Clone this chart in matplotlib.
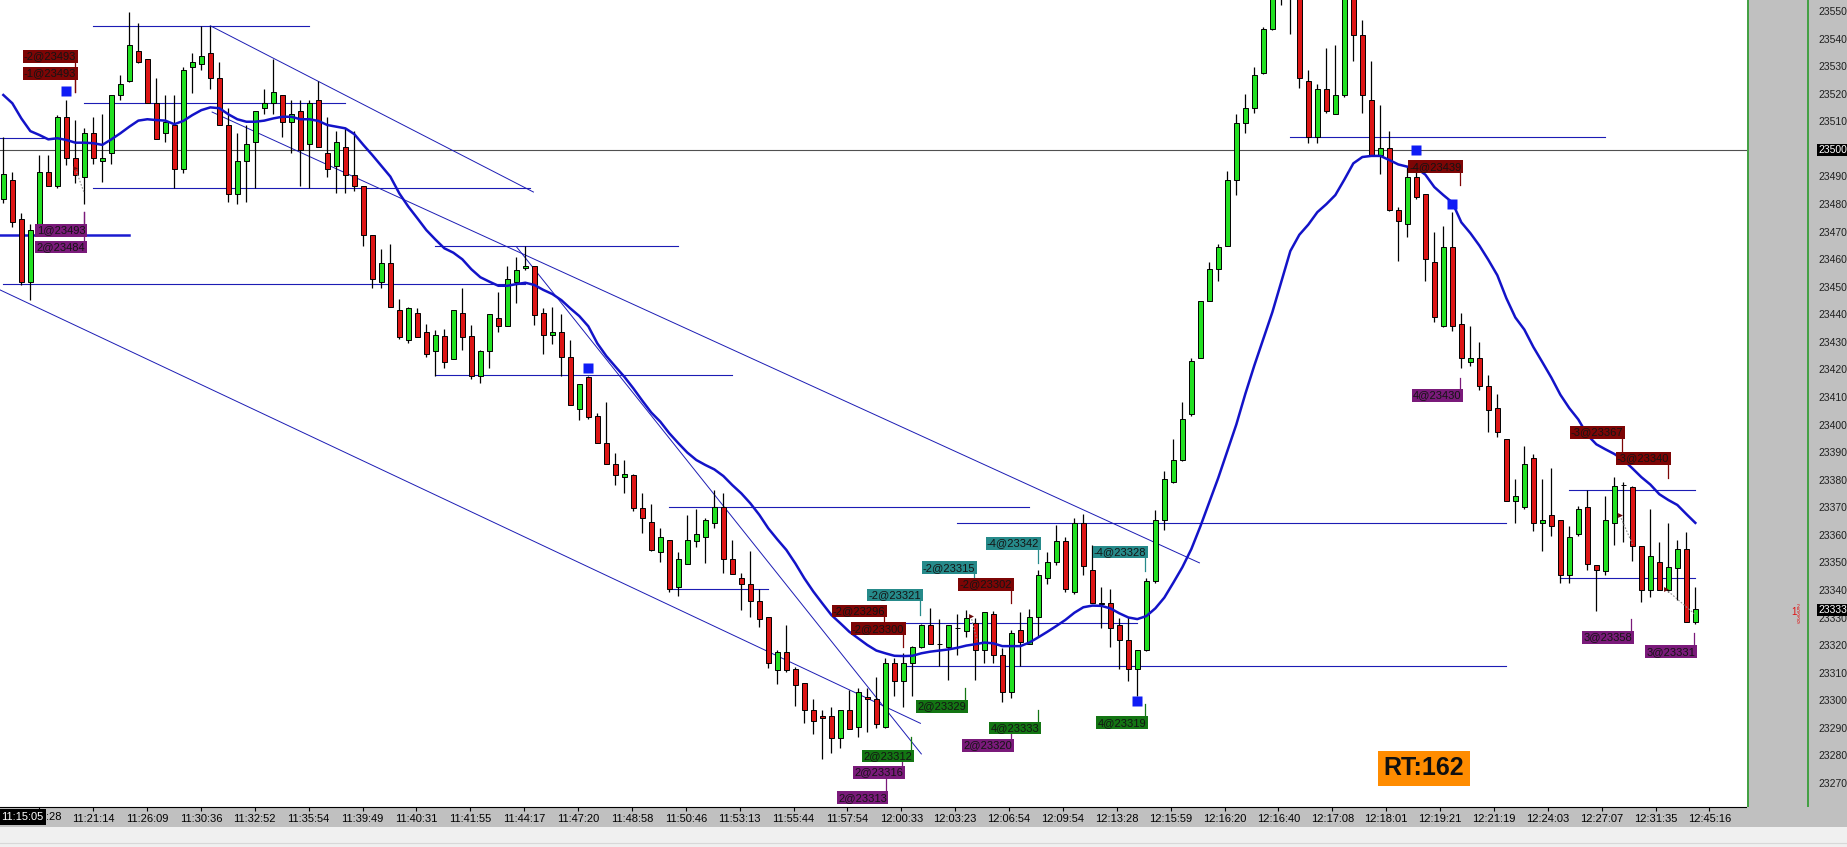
import numpy as np
import matplotlib

matplotlib.use("Agg")
import matplotlib.pyplot as plt
from matplotlib.patches import Rectangle

plt.rcParams["font.family"] = ["Liberation Sans", "DejaVu Sans"]

# ---- candle data (one bar per slot) ----
opens = [
    23482.2, 23489, 23475, 23452, 23471, 23492, 23487, 23512, 23497, 23490,
    23506, 23496, 23499, 23520, 23525, 23536, 23533, 23517, 23506, 23509,
    23493, 23530, 23531, 23535, 23526, 23509, 23484, 23496, 23503, 23515,
    23517, 23520, 23510, 23514, 23502, 23518, 23499, 23494, 23501, 23491,
    23487, 23469, 23452, 23459, 23442, 23431, 23441, 23434, 23427, 23432.5,
    23424, 23441, 23432.5, 23418, 23427, 23439, 23436, 23452, 23457, 23458,
    23441, 23433, 23434, 23425, 23406, 23417.5, 23403.5, 23393.5, 23386, 23381.5,
    23382, 23370, 23365, 23354, 23358.5, 23341.6, 23349.7, 23358.3, 23359.5, 23364.5,
    23370.3, 23351.5, 23344.6, 23342.4, 23336.5, 23330.4, 23311.3, 23318, 23311.6, 23306.5,
    23296.8, 23294.7, 23294.7, 23286.6, 23296.8, 23290.5, 23301.7, 23300.7, 23290.6, 23313.8,
    23307.5, 23313.8, 23319.6, 23327.6, 23320.8, 23319.6, 23326.5, 23325.6, 23328.3, 23318.6,
    23331.5, 23316.8, 23303.5, 23325.8, 23320.8, 23330.4, 23344.6, 23350.4, 23358.3, 23339.5,
    23364.7, 23347.6, 23335.3, 23335.6, 23327.5, 23322.4, 23311.6, 23318.5, 23343.5, 23365.6,
    23379.4, 23387.4, 23404.1, 23424.4, 23445.1, 23456.9, 23465.1, 23488.9, 23509.9, 23515.1,
    23527.7, 23544, 23562, 23570, 23558, 23525, 23504.8, 23522.1, 23512.9, 23520,
    23562, 23541.8, 23518.1, 23498.1, 23500.8, 23478.1, 23473.2, 23490, 23484, 23459.3,
    23436.2, 23464.8, 23436.9, 23423, 23424.4, 23414.3, 23406.3, 23395.2, 23372.6, 23370.3,
    23388.3, 23364.7, 23367.5, 23365.7, 23345.7, 23360.5, 23370.3, 23349.4, 23347.3, 23364.7,
    23378.6, 23377.6, 23356.4, 23340.4, 23350.4, 23340.4, 23348.5, 23355.4, 23328.6,
]
highs = [
    23504.7, 23492, 23477, 23473, 23498, 23498, 23512.5, 23518, 23511, 23508,
    23512, 23513, 23520, 23527, 23550, 23546, 23533, 23526, 23520, 23520,
    23530, 23535, 23545, 23545, 23532, 23515, 23506, 23509, 23514, 23522,
    23533, 23520, 23518, 23518, 23518, 23525, 23512, 23507, 23508, 23507,
    23487, 23469, 23464, 23466, 23446, 23443, 23442.5, 23437, 23434.5, 23435,
    23442, 23450, 23436.5, 23427.5, 23440.5, 23448.5, 23458, 23461, 23465, 23458,
    23442.5, 23443, 23440.5, 23431, 23415, 23418, 23404.5, 23408.5, 23390, 23387.5,
    23382.5, 23375.5, 23371.5, 23362.7, 23358.5, 23354, 23367.6, 23369.6, 23366.4, 23376.6,
    23375.4, 23358.5, 23346.6, 23354.6, 23340.6, 23330.4, 23318.6, 23327.7, 23312.6, 23306.5,
    23300.7, 23296.8, 23297.8, 23296.8, 23304.1, 23304.7, 23304.7, 23308.9, 23315.6, 23315.6,
    23317.4, 23320, 23328, 23333.7, 23329.7, 23327.6, 23331.7, 23333.1, 23330.1, 23332.5,
    23332.9, 23319.2, 23325.8, 23332.5, 23333.3, 23347.6, 23354.3, 23363.9, 23359.5, 23366.4,
    23367.8, 23356.6, 23341.6, 23340.7, 23330.1, 23330.5, 23318.5, 23344.7, 23369.5, 23383.5,
    23395.2, 23408.5, 23424.4, 23445.1, 23459.3, 23465.8, 23492.2, 23512.9, 23520.3, 23529.9,
    23544.7, 23566, 23575, 23578, 23560, 23528.9, 23524, 23536.9, 23538.1, 23566,
    23564, 23547, 23532.4, 23516.2, 23507, 23479.1, 23494, 23492.2, 23484, 23470.3,
    23472.2, 23477.4, 23441, 23436.2, 23430.4, 23418.4, 23411.5, 23395.2, 23380.7, 23392.5,
    23389.7, 23380.7, 23384.5, 23365.7, 23363.7, 23370.7, 23376.5, 23349.4, 23374.4, 23381.4,
    23379.5, 23378.2, 23356.4, 23369.8, 23357.8, 23364.7, 23358.5, 23361.5, 23341.5,
]
lows = [
    23480.7, 23472, 23451, 23445.5, 23470, 23487, 23486, 23494.5, 23488, 23480.5,
    23495, 23488.5, 23495, 23518, 23524.5, 23531.5, 23517, 23504, 23503, 23486,
    23491.5, 23520.5, 23529, 23522, 23509, 23481, 23480.5, 23481, 23486, 23513,
    23513, 23504.5, 23499, 23487, 23486, 23501, 23490, 23484.5, 23484.5, 23485,
    23465, 23450, 23450, 23443, 23431.5, 23430, 23432, 23425, 23418, 23421,
    23424, 23427.5, 23417, 23415.5, 23421, 23434, 23436, 23444.5, 23456.5, 23436.5,
    23426, 23429.5, 23418, 23407.5, 23402, 23402.5, 23393.5, 23386, 23378.5, 23375.7,
    23369, 23361, 23354.5, 23350.6, 23339.8, 23338, 23349.7, 23355.8, 23350, 23362.7,
    23346.6, 23346, 23333, 23330.7, 23326.8, 23311.9, 23306.3, 23310.7, 23298.3, 23292,
    23288.1, 23278.9, 23281.1, 23283, 23289.8, 23286.9, 23289, 23290.2, 23290.2, 23301.9,
    23298, 23302, 23319.2, 23320.8, 23312.8, 23307.7, 23316.8, 23323.4, 23307.7, 23314,
    23314, 23299.9, 23301.1, 23312.8, 23320.8, 23323.7, 23342.5, 23349.4, 23339.8, 23339,
    23345.9, 23335.6, 23326.7, 23319.8, 23311.6, 23307.5, 23301.9, 23318.1, 23343, 23362.3,
    23379, 23387, 23403.6, 23424.4, 23445, 23452.5, 23465, 23483.6, 23506.2, 23513.2,
    23527.4, 23543.5, 23552.5, 23542, 23522.5, 23502.5, 23502.5, 23513.2, 23512.9, 23519,
    23532.4, 23513.2, 23497.8, 23491.4, 23478, 23459.6, 23468.5, 23482.1, 23452.5, 23437.4,
    23435.6, 23434.4, 23420.9, 23421.6, 23412.9, 23397.6, 23395.7, 23372.6, 23364.7, 23369.8,
    23361.9, 23354.6, 23359.8, 23342.9, 23342.9, 23359.8, 23347.6, 23332.8, 23345.9, 23356.8,
    23357.8, 23350.8, 23336, 23337.9, 23340.4, 23339.7, 23336.9, 23328.6, 23327.9,
]
closes = [
    23491.2, 23474, 23452, 23471, 23492, 23487, 23512, 23497, 23491, 23506,
    23497, 23497, 23520, 23524, 23538, 23532, 23517, 23504, 23510, 23493,
    23529, 23532, 23534, 23526, 23509, 23484, 23496, 23502, 23514, 23517,
    23521, 23510, 23513, 23500, 23517, 23501, 23493, 23503, 23491, 23487,
    23469, 23453, 23459, 23443, 23432, 23442.5, 23432, 23426, 23433, 23423,
    23442, 23432, 23418, 23427, 23440.5, 23436, 23453, 23456.5, 23458, 23440,
    23433, 23434, 23425, 23407.5, 23415, 23403, 23393.5, 23386, 23382, 23382.5,
    23370, 23366.5, 23355, 23359.5, 23340.6, 23351.5, 23358.5, 23360.7, 23365.7, 23370.3,
    23351.5, 23346.2, 23342.4, 23336.5, 23329.7, 23313.8, 23318, 23311.3, 23305.9, 23296.8,
    23292.9, 23293.8, 23286.6, 23296.8, 23289.8, 23303.5, 23300.7, 23291.8, 23313.8, 23307.5,
    23313.8, 23319.6, 23327.6, 23320.8, 23320.8, 23327.6, 23326.5, 23330.1, 23318.6, 23332.5,
    23316.8, 23303.5, 23324.6, 23321.6, 23330.4, 23345.8, 23350.4, 23358.3, 23340.6, 23364.7,
    23349, 23335.6, 23335.8, 23326.7, 23322.4, 23311.6, 23318.5, 23343.5, 23365.6, 23380.6,
    23387.4, 23402.2, 23423.3, 23445.1, 23456.9, 23464.8, 23488.9, 23509.9, 23515.1, 23527,
    23544, 23562, 23570, 23558, 23525.9, 23504.8, 23522.1, 23514.1, 23520, 23562,
    23541.8, 23520, 23497.8, 23500.8, 23478.1, 23474.1, 23490, 23483, 23460.3, 23439.2,
    23464.8, 23436.2, 23424.4, 23424.4, 23414.3, 23405.6, 23397.6, 23372.6, 23374.4, 23386.2,
    23364.7, 23365.7, 23363.7, 23345.7, 23359.6, 23369.6, 23349.8, 23347.6, 23365.7, 23378.2,
    23378.6, 23356.4, 23340.4, 23352.6, 23340.4, 23348.7, 23355.4, 23328.6, 23333.5,
]

# moving average as drawn on the chart (read per bar)
ma_values = [
    23519.9, 23516.9, 23511.4, 23506.8, 23505.4, 23503.8, 23504.2, 23503.6, 23502.6, 23502.6,
    23502.4, 23501.8, 23503.8, 23506.0, 23508.4, 23510.6, 23511.1, 23510.8, 23510.6, 23509.3,
    23510.5, 23512.6, 23514.4, 23515.4, 23515.1, 23512.9, 23511.1, 23510.2, 23510.2, 23510.6,
    23511.4, 23512.0, 23512.0, 23511.1, 23511.1, 23510.5, 23509.0, 23508.4, 23507.8, 23505.7,
    23501.8, 23498.1, 23494.2, 23490.3, 23484.2, 23479.4, 23475.2, 23470.9, 23467.5, 23464.3,
    23462.7, 23460.3, 23456.7, 23453.8, 23452.2, 23450.7, 23450.7, 23451.3, 23451.8, 23451.0,
    23449.2, 23447.7, 23445.5, 23442.5, 23439.7, 23436.0, 23429.8, 23425.2, 23421.4, 23417.7,
    23413.5, 23409.0, 23404.7, 23401.4, 23397.2, 23393.6, 23390.2, 23387.5, 23385.7, 23384.1,
    23381.7, 23378.4, 23375.4, 23371.8, 23367.6, 23362.7, 23358.7, 23354.9, 23350.0, 23344.6,
    23339.8, 23335.5, 23331.3, 23328.3, 23325.2, 23322.8, 23320.4, 23318.4, 23317.4, 23316.5,
    23316.4, 23316.5, 23317.4, 23318.0, 23318.4, 23318.8, 23319.4, 23320.2, 23320.7, 23321.3,
    23321.0, 23320.0, 23320.0, 23320.0, 23321.3, 23323.2, 23325.2, 23327.3, 23329.5, 23332.1,
    23334.1, 23334.7, 23334.6, 23333.7, 23331.9, 23330.4, 23329.8, 23330.9, 23333.7, 23337.6,
    23343.0, 23348.6, 23355.2, 23363.4, 23372.3, 23381.1, 23390.8, 23400.4, 23411.5, 23421.8,
    23431.5, 23441.1, 23452.2, 23463.3, 23469.2, 23472.9, 23477.4, 23480.3, 23483.6, 23489.2,
    23495.1, 23497.4, 23497.8, 23497.8, 23496.3, 23494.7, 23493.9, 23493.4, 23491.0, 23486.5,
    23483.6, 23480.9, 23473.7, 23469.8, 23465.3, 23460.1, 23454.5, 23446.2, 23439.2, 23434.8,
    23428.5, 23423.0, 23417.4, 23411.2, 23406.3, 23402.2, 23396.6, 23393.2, 23391.4, 23389.7,
    23387.6, 23384.5, 23381.3, 23378.6, 23375.1, 23373.0, 23371.2, 23367.9, 23364.7,
]

# first label is mostly hidden behind the current-time tag; only ":28" shows
time_labels = [
    ":28", "11:21:14", "11:26:09", "11:30:36", "11:32:52", "11:35:54", "11:39:49",
    "11:40:31", "11:41:55", "11:44:17", "11:47:20", "11:48:58", "11:50:46", "11:53:13",
    "11:55:44", "11:57:54", "12:00:33", "12:03:23", "12:06:54", "12:09:54", "12:13:28",
    "12:15:59", "12:16:20", "12:16:40", "12:17:08", "12:18:01", "12:19:21", "12:21:19",
    "12:24:03", "12:27:07", "12:31:35", "12:45:16",
]
price_ticks = list(range(23270, 23551, 10))

# drawn support / resistance levels: price, first bar, last bar
level_prices = [23544.9, 23516.9, 23504.4, 23486.0, 23451.2, 23465.0, 23418.4,
                23370.4, 23340.6, 23328.5, 23312.9, 23364.7, 23504.8, 23376.5, 23344.6]
level_start = [10, 9, -0.4, 10, 0, 48, 48, 74, 74, 95, 100, 106, 143, 174, 173]
level_end = [34, 38, 5.5, 58.5, 58, 75, 81, 114, 85, 126, 167, 167, 178, 188, 188]
thick_level = (23469.1, -0.4, 14)
ref_level = 23500

# trendlines: (bar, price) -> (bar, price)
trend_x0 = [23.0, 23.2, 57.0, -0.37]
trend_p0 = [23545.0, 23513.7, 23464.9, 23449.2]
trend_x1 = [58.9, 132.9, 102.0, 101.9]
trend_p1 = [23484.7, 23350.2, 23280.9, 23292.0]

# order tags: text, colour kind, bar at right edge, price at centre, price at tip
tag_text = ["-2@23493", "-1@23493", "1@23493", "2@23484", "-2@23296", "-2@23300",
            "-2@23321", "-2@23315", "-2@23302", "-4@23342", "-4@23328", "2@23329",
            "4@23333", "2@23320", "4@23319", "2@23312", "2@23316", "2@23313",
            "-4@23439", "4@23430", "-3@23367", "-3@23340", "3@23358", "3@23331"]
tag_kind = ["sell", "sell", "exit", "exit", "sell", "sell",
            "short", "short", "sell", "short", "short", "buy",
            "buy", "exit", "buy", "buy", "exit", "exit",
            "sell", "exit", "sell", "sell", "exit", "exit"]
tag_bar = [8.1, 8.1, 9.1, 9.1, 98.0, 100.1, 102.0, 108.0, 112.1, 115.1, 127.0, 107.0,
           115.1, 112.1, 127.0, 101.0, 100.0, 98.2, 162.0, 162.0, 180.0, 185.1, 181.0, 188.0]
tag_price = [23533.9, 23527.8, 23470.8, 23464.8, 23332.7, 23326.3, 23338.6, 23348.4,
             23342.4, 23357.3, 23354.1, 23298.2, 23290.3, 23284.0, 23292.2, 23280.2,
             23274.2, 23265.0, 23493.9, 23410.9, 23397.6, 23388.1, 23323.2, 23318.0]
tag_tip = [23521.0, 23521.0, 23477.5, 23477.5, 23328.9, 23319.8, 23331.3, 23341.8,
           23335.5, 23350.3, 23347.4, 23304.7, 23296.8, 23288.0, 23298.9, 23286.9,
           23281.1, 23274.0, 23487.3, 23417.4, 23390.7, 23381.0, 23330.0, 23324.9]

# dotted entry -> exit links: bar, price pairs
link_x0 = [8.0, 179.6, 184.7, 107.5]
link_p0 = [23493.3, 23367.5, 23340.7, 23331.0]
link_x1 = [9.0, 181.0, 188.0, 108.2]
link_p1 = [23484.2, 23357.1, 23331.4, 23322.0]

signal_bars = [7, 65, 126, 157, 161]
signal_prices = [23521.3, 23421.0, 23300.1, 23500.0, 23480.4]

last_price = 23333
round_trips = 162

GREEN = "#22e022"
RED = "#dd1515"
LINE_BLUE = "#1c1cb4"
TAG_COLORS = {"sell": "#7d0505", "short": "#268a8a", "buy": "#137513", "exit": "#7a1a7a"}

W, H = 1847, 847
PLOT_R, PLOT_B, BAND_B = 1747, 807, 827
Y_TOP = 23554.35
PT_PER_PX = 0.3627

fig = plt.figure(figsize=(W / 100, H / 100), dpi=100, facecolor="#f0f0f0")
fig.add_artist(Rectangle((0, 1 - BAND_B / H), 1, (BAND_B - PLOT_B) / H,
                         transform=fig.transFigure, fc="#c0c0c0", ec="none", zorder=0))
fig.add_artist(plt.Line2D([0, 1], [1 - 843 / H] * 2, transform=fig.transFigure,
                          color="#d8d8d8", lw=0.8))

ax = fig.add_axes([0, 1 - PLOT_B / H, PLOT_R / W, PLOT_B / H])
ax.set_facecolor("white")
ax.set_xlim(-0.37, 193.74)
ax.set_ylim(Y_TOP - PLOT_B * PT_PER_PX, Y_TOP)

o = np.array(opens)
c = np.array(closes)
idx = np.arange(len(o))
up = c >= o

ax.axhline(ref_level, color="#505050", lw=0.8, zorder=1)
for p, a, b in zip(level_prices, level_start, level_end):
    ax.plot([a, b], [p, p], color=LINE_BLUE, lw=0.8, zorder=2)
ax.plot([thick_level[1], thick_level[2]], [thick_level[0]] * 2, color="#1a1ad0", lw=1.8, zorder=2)
for x0, p0, x1, p1 in zip(trend_x0, trend_p0, trend_x1, trend_p1):
    ax.plot([x0, x1], [p0, p1], color=LINE_BLUE, lw=0.7, zorder=2)

ax.vlines(idx, lows, highs, color="black", lw=0.9, zorder=3)
ax.bar(idx, np.abs(c - o), bottom=np.minimum(o, c), width=0.52,
       color=np.where(up, GREEN, RED), edgecolor="black", linewidth=0.7, zorder=4)

ax.plot(idx, ma_values, color="#1313c8", lw=1.8, zorder=5)

for x0, p0, x1, p1 in zip(link_x0, link_p0, link_x1, link_p1):
    ax.plot([x0, x1], [p0, p1], color="#909090", lw=0.8, ls=(0, (1.5, 1.5)), zorder=6)
    ax.plot([x0], [p0], marker=">", color="#6a0a0a", ms=3.5, mec="none", zorder=6)

for t, k, xb, pc, pt in zip(tag_text, tag_kind, tag_bar, tag_price, tag_tip):
    col = TAG_COLORS[k]
    ax.plot([xb - 0.15, xb - 0.15], [pc, pt], color=col, lw=0.9, zorder=6)
    ax.text(xb, pc, t, ha="right", va="center", fontsize=8, color="#141414", zorder=7,
            bbox=dict(boxstyle="square,pad=0.12", fc=col, ec="none"))

ax.plot(signal_bars, signal_prices, "s", color="#0f1cf5", ms=7, mec="none", zorder=8)

for side in ("top", "left", "right"):
    ax.spines[side].set_visible(False)
ax.spines["bottom"].set_color("black")
ax.set_yticks([])
tick_pos = 4.0 + 5.986 * np.arange(len(time_labels))
# first tick keeps its mark; its visible remainder is written beside the time tag
ax.set_xticks(tick_pos, [""] + time_labels[1:])
ax.tick_params(axis="x", length=3, width=0.8, pad=2, labelsize=8, colors="black")
fig.text(46 / W, 1 - 817 / H, time_labels[0], ha="left", va="center", fontsize=8,
         color="black")

# right price panel
axr = fig.add_axes([PLOT_R / W, 1 - BAND_B / H, (W - PLOT_R) / W, BAND_B / H])
axr.set_facecolor("#c0c0c0")
axr.set_xlim(0, W - PLOT_R)
axr.set_ylim(Y_TOP - BAND_B * PT_PER_PX, Y_TOP)
axr.axis("off")
axr.add_patch(Rectangle((0, Y_TOP - BAND_B * PT_PER_PX), W - PLOT_R, BAND_B * PT_PER_PX,
                        fc="#c0c0c0", ec="none", zorder=0))
y_bot = Y_TOP - PLOT_B * PT_PER_PX
axr.vlines([0.8, 61], y_bot, Y_TOP, color="#2c9a2c", lw=1.2, zorder=2)
for p in price_ticks:
    axr.text(71, p, str(p), ha="left", va="center", fontsize=7.5, color="#202020", zorder=3)
for p in (ref_level, last_price):
    axr.text(71, p, str(p), ha="left", va="center", fontsize=7.5, color="white", zorder=4,
             bbox=dict(boxstyle="square,pad=0.1", fc="black", ec="none"))
axr.text(44, last_price - 0.5, "1", ha="left", va="center", fontsize=7, color="#e01010", zorder=4)
axr.text(50, last_price - 1.5, "2\n5\n3\n3\n9", ha="left", va="center", fontsize=3.6,
         linespacing=0.8, color="#e01010", zorder=4)

# current time tag at the left end of the time axis
fig.text(22 / W, 1 - 817 / H, "11:15:05", ha="center", va="center", fontsize=8, color="white",
         bbox=dict(boxstyle="square,pad=0.25", fc="black", ec="none"), zorder=10)

# round-trip counter
fig.text(1424 / W, 1 - 768 / H, f"RT:{round_trips}", ha="center", va="center",
         fontsize=18, fontweight="bold", color="#101010", zorder=10,
         bbox=dict(boxstyle="square,pad=0.22", fc="#ff8c00", ec="none"))

fig.savefig("out.png", dpi=100, facecolor=fig.get_facecolor())
